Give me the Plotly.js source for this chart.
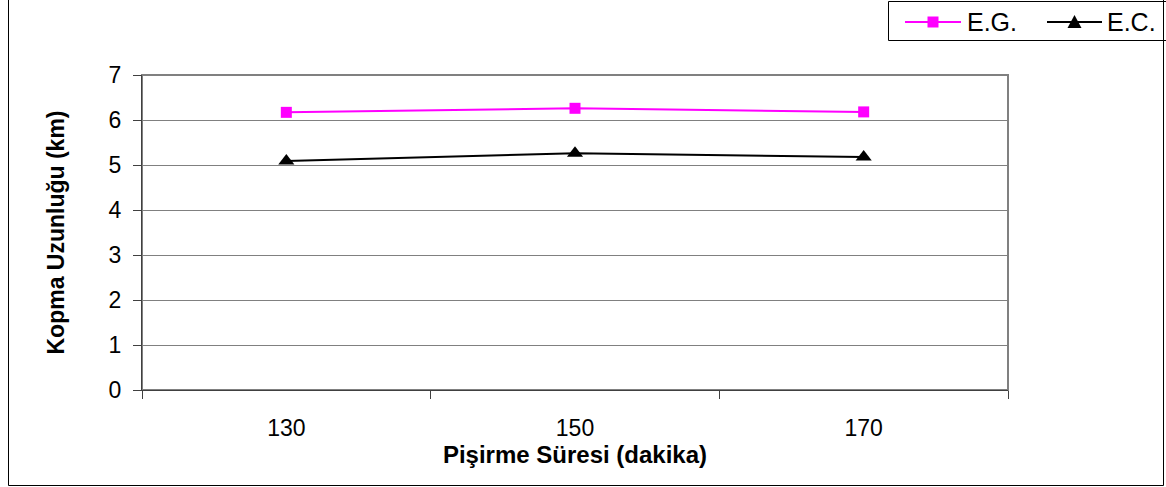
<!DOCTYPE html>
<html>
<head>
<meta charset="utf-8">
<script src="https://cdn.plot.ly/plotly-3.0.1.min.js"></script>
<style>html,body{margin:0;padding:0;background:#fff;}#chart{width:1166px;height:487px;}</style>
</head>
<body>
<div id="chart"></div>
<script>
const categories = ["130", "150", "170"];
const egValues = [6.17, 6.26, 6.18];
const ecValues = [5.09, 5.26, 5.18];
const seriesNames = ["E.G.", "E.C."];
const seriesColors = ["#ff00ff", "#000000"];
const yTicks = [0, 1, 2, 3, 4, 5, 6, 7];

const L = 142, R = 1008, T = 75, B = 390, W = 1166, H = 487;
const px = v => (v - L) / (R - L);
const py = v => (B - v) / (B - T);
const FONT = "Arial, 'Liberation Sans', sans-serif";

const traces = [
  {x: categories, y: egValues, name: seriesNames[0], type: "scatter", mode: "lines+markers",
   line: {color: seriesColors[0], width: 2}, marker: {symbol: "square", size: 11, color: seriesColors[0]}},
  {x: categories, y: ecValues, name: seriesNames[1], type: "scatter", mode: "lines+markers",
   line: {color: seriesColors[1], width: 2}, marker: {symbol: "triangle-up", size: 14, color: seriesColors[1]}}
];

// manual legend (key geometry only)
const legY = 22;
const legendItems = [
  {x0: 905, x1: 961, tx: 965},
  {x0: 1047, x1: 1102, tx: 1105}
];
const shapes = [
  {type: "rect", xref: "paper", yref: "paper", x0: px(L), x1: px(R), y0: py(B), y1: py(T),
   line: {color: "#808080", width: 2}, layer: "below"},
  {type: "rect", xref: "paper", yref: "paper", x0: px(8.5), x1: px(1163.5), y0: py(485.5), y1: py(-3),
   line: {color: "#000", width: 1}},
  {type: "rect", xref: "paper", yref: "paper", x0: px(888.5), x1: px(1170), y0: py(40.5), y1: py(1.5),
   line: {color: "#000", width: 1}}
];
const annotations = [];
legendItems.forEach((it, i) => {
  shapes.push({type: "line", xref: "paper", yref: "paper", x0: px(it.x0), x1: px(it.x1), y0: py(legY), y1: py(legY),
               line: {color: seriesColors[i], width: 2}});
  const cx = (it.x0 + it.x1) / 2;
  if (i === 0) {
    shapes.push({type: "rect", xref: "paper", yref: "paper", x0: px(cx - 5.5), x1: px(cx + 5.5),
                 y0: py(legY + 5.5), y1: py(legY - 5.5), fillcolor: seriesColors[i], line: {width: 0}});
  } else {
    const p = (x, y) => px(x) + "," + py(y);
    shapes.push({type: "path", xref: "paper", yref: "paper",
                 path: "M" + p(cx - 7, legY + 6) + " L" + p(cx + 7, legY + 6) + " L" + p(cx, legY - 7) + " Z",
                 fillcolor: seriesColors[i], line: {width: 0}});
  }
  annotations.push({xref: "paper", yref: "paper", x: px(it.tx), y: py(legY), xanchor: "left", yanchor: "middle",
                    text: seriesNames[i], showarrow: false, font: {family: FONT, size: 25, color: "#000"}});
});

const layout = {
  width: W, height: H,
  margin: {l: L, r: W - R, t: T, b: H - B, pad: 0, autoexpand: false},
  paper_bgcolor: "#fff", plot_bgcolor: "#fff",
  font: {family: FONT, size: 23, color: "#000"},
  showlegend: false,
  xaxis: {type: "category", range: [-0.5, 2.5], tickson: "boundaries", ticks: "outside", ticklen: 8,
          tickcolor: "#404040", showline: true, linecolor: "#404040", linewidth: 1, showgrid: false, zeroline: false,
          tickfont: {family: FONT, size: 23}, ticklabelstandoff: 17,
          title: {text: "<b>Pişirme Süresi (dakika)</b>", font: {family: FONT, size: 24}, standoff: 6}},
  yaxis: {range: [0, 7], tickvals: yTicks, ticks: "outside", ticklen: 8, tickcolor: "#404040",
          showline: true, linecolor: "#404040", linewidth: 1, showgrid: true, gridcolor: "#808080", gridwidth: 1,
          zeroline: false, tickfont: {family: FONT, size: 23}, ticklabelstandoff: 7,
          title: {text: "<b>Kopma Uzunluğu (km)</b>", font: {family: FONT, size: 23}, standoff: 37}},
  shapes: shapes,
  annotations: annotations
};

Plotly.newPlot("chart", traces, layout, {displayModeBar: false, staticPlot: true});
</script>
</body>
</html>
